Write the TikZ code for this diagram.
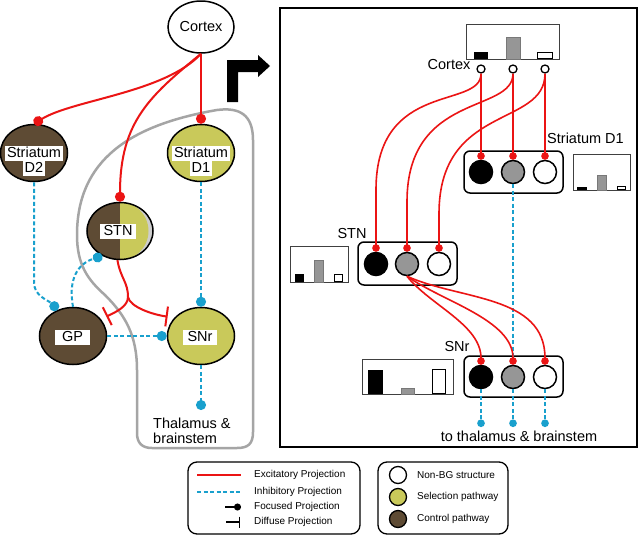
\documentclass[tikz,border=0pt]{standalone}
\usepackage{fontspec}
\setmainfont{Liberation Sans}
\usetikzlibrary{shapes.geometric,arrows.meta}
\definecolor{ctrlc}{RGB}{94,75,52}
\definecolor{selc}{RGB}{201,201,90}
\definecolor{excc}{RGB}{235,20,20}
\definecolor{inhc}{RGB}{25,160,205}
\definecolor{rimc}{RGB}{205,205,205}
\definecolor{outc}{RGB}{165,165,165}
\definecolor{midg}{RGB}{150,150,150}
\newcommand{\mybigfont}{\fontsize{14.5}{15}\selectfont}
\newcommand{\mysmallfont}{\fontsize{10}{12}\selectfont}
\begin{document}
\begin{tikzpicture}[x=1pt,y=-1pt,
 ell/.style={ellipse, draw=black, line width=1.5pt, minimum width=67pt, minimum height=57pt, inner sep=0pt},
 wlbl/.style={fill=white, inner xsep=2pt, inner ysep=1pt, text height=10.5pt, text depth=2.5pt, font=\mybigfont},
 wlblw/.style={wlbl, inner xsep=5pt},
 txt/.style={font=\mybigfont, inner sep=0pt},
 small/.style={font=\mysmallfont, inner sep=0pt, anchor=west},
 exc/.style={draw=excc, line width=2pt},
 excr/.style={draw=excc, line width=1.6pt},
 inh/.style={draw=inhc, line width=2pt, dash pattern=on 4pt off 2.5pt},
 inhr/.style={draw=inhc, line width=2.5pt, dash pattern=on 4pt off 2.5pt},
 dot/.style={-{Circle[length=10pt]}},
 sdot/.style={-{Circle[length=7.5pt]}},
 tee/.style={-{Bar[width=20pt]}},
 rbox/.style={draw=black, line width=1.5pt, rounded corners=6pt, fill=white, minimum width=99pt, minimum height=42pt, inner sep=0pt},
 cir/.style={circle, draw=black, line width=1.5pt, minimum size=23pt, inner sep=0pt},
 scir/.style={circle, draw=black, line width=1.3pt, minimum size=8pt, inner sep=0pt, fill=white},
 lcir/.style={circle, draw=black, line width=1.3pt, minimum size=17pt, inner sep=0pt},
 hbox/.style={draw=black!75, line width=0.8pt, fill=white},
 barw/.style={draw=black, line width=1.2pt, fill=white},
 barg/.style={fill=midg, draw=midg!80!black, line width=0.5pt},
]
\useasboundingbox (0,0) rectangle (640,536);
\fill[white] (0,0) rectangle (640,536);

% ---------- left panel ----------
\draw[outc, line width=2.5pt] (217,110) .. controls (240,107) and (253,115) .. (253,140) -- (253,432) .. controls (253,444) and (248,448) .. (237,448) -- (152,448) .. controls (142,448) and (137,443) .. (137,433) -- (137,370) .. controls (137,335) and (125,315) .. (105,295) .. controls (88,280) and (77,265) .. (77,235) .. controls (77,160) and (130,125) .. (217,110) -- cycle;

\fill[black] (227,102) -- (227,60) -- (258,60) -- (258,55) -- (270,66) -- (258,77) -- (258,72) -- (238,72) -- (238,102) -- cycle;

\node[ell, fill=white, minimum width=66pt, minimum height=52pt] (cx) at (201,27) {};
\node[txt] (cxt) at (cx.center) {Cortex};
\node[ell, fill=ctrlc] (d2) at (34,153) {};
\node[wlbl] (d2a) at (34,153) {Striatum};
\node[wlbl] (d2b) at (34,168) {D2};
\node[ell, fill=selc] (d1) at (201,153) {};
\node[wlbl] (d1a) at (201,153) {Striatum};
\node[wlbl] (d1b) at (201,168) {D1};
\node[ell, minimum width=66pt, path picture={
  \fill[rimc] (path picture bounding box.south west) rectangle (path picture bounding box.north east);
  \fill[selc] ([xshift=-2.5pt]path picture bounding box.center) ellipse [x radius=31pt, y radius=30pt];
  \fill[ctrlc] (path picture bounding box.south west) rectangle (path picture bounding box.north);
}] (stn) at (120,231) {};
\node[wlblw, inner xsep=3.5pt] (stnl) at (118,231) {STN};
\node[ell, fill=ctrlc] (gp) at (73,336) {};
\node[wlblw, inner xsep=7pt] (gpl) at (72.5,337) {GP};
\node[ell, fill=selc] (snr) at (201,336) {};
\node[wlblw, inner xsep=4.5pt] (snrl) at (200,337) {SNr};
\node[txt, align=left, anchor=north west] (thl) at (153,418) {Thalamus \&\\brainstem};

\draw[exc, dot] (cx.south) -- (d1.north);
\draw[exc, dot] (cx.south) .. controls +(-36,39) and +(39,-24) .. (d2.north);
\draw[exc, dot] (cx.south) .. controls +(-51,42) and +(0,-80) .. (stn.north);
\coordinate (br) at (128,297);
\draw[exc] (stn.265) .. controls +(3,18) and +(0,-15) .. (br);
\draw[exc, tee] (br) .. controls +(0,10) and +(8,-4) .. ([xshift=5pt,yshift=3pt]gp.30);
\draw[exc, tee] (br) .. controls +(2,10) and +(-15,-2) .. ([xshift=-5pt,yshift=3pt]snr.150);

\draw[inh, dot] (d2.south) -- ++(0,100) .. controls +(0,14) and +(-10,-10) .. (gp.120);
\draw[inh, dot] (gp.north) .. controls +(-6,-33) and +(-20,6) .. (stn.235);
\draw[inh, dot] (d1.south) -- (snr.north);
\draw[inh, dot] (gp.east) -- (snr.west);
\coordinate (thal) at (201,410);
\draw[inh, dot] (snr.south) -- (thal);

% ---------- right panel ----------
\draw[black, line width=2pt] (280,8) rectangle (637,447);

\draw[hbox] (466,24) rectangle (559,59);
\fill[black] (474,52) rectangle (488,59);
\draw[barg] (506,37) rectangle (520,59);
\draw[barw] (537.6,52.6) rectangle (552.4,58.4);
\node[txt] (cxl) at (449,65) {Cortex};
\node[scir] (c1) at (481,69) {};
\node[scir] (c2) at (513,69) {};
\node[scir] (c3) at (545,69) {};

\node[rbox] (d1box) at (513.5,172) {};
\node[cir, fill=black] (s1) at (481,172) {};
\node[cir, fill=midg] (s2) at (513,172) {};
\node[cir, fill=white] (s3) at (545,172) {};
\node[txt] (d1lab) at (585.5,138) {Striatum D1};
\draw[hbox] (573,154) rectangle (630,190);
\fill[black] (577,187) rectangle (587,190);
\draw[barg] (597,175) rectangle (606,190);
\draw[barw] (617.6,186.6) rectangle (625.4,189.6);

\node[rbox, minimum height=43pt] (stnbox) at (407.5,263.5) {};
\node[cir, fill=black] (t1) at (376,264) {};
\node[cir, fill=midg] (t2) at (407,264) {};
\node[cir, fill=white] (t3) at (439,264) {};
\node[txt] (stnlab) at (352,234) {STN};
\draw[hbox] (290,246) rectangle (348,282);
\fill[black] (295,274) rectangle (304,282);
\draw[barg] (314,260) rectangle (323,282);
\draw[barw] (334.6,274.6) rectangle (342.4,281.4);

\node[rbox, minimum height=41pt] (snrbox) at (513.5,376.5) {};
\node[cir, fill=black] (n1) at (481,377) {};
\node[cir, fill=midg] (n2) at (513,377) {};
\node[cir, fill=white] (n3) at (545,377) {};
\node[txt] (snrlab) at (457,347) {SNr};
\draw[hbox] (362,359) rectangle (453,394);
\fill[black] (368,370) rectangle (383,394);
\draw[barg] (401,388) rectangle (414,394);
\draw[barw] (432.6,369.6) rectangle (445.4,393.4);

\draw[inhr] (s2.south) -- (n2.north);
\coordinate (th1) at (481,427);
\coordinate (th2) at (513,427);
\coordinate (th3) at (545,427);
\draw[inhr, sdot] (n1.south) -- (th1);
\draw[inhr, sdot] (n2.south) -- (th2);
\draw[inhr, sdot] (n3.south) -- (th3);
\node[txt] (tolab) at (519,436) {to thalamus \& brainstem};

\draw[excr, sdot] (c1.south) -- (s1.north);
\draw[excr, sdot] (c2.south) -- (s2.north);
\draw[excr, sdot] (c3.south) -- (s3.north);
\draw[excr, sdot] (c1.south) .. controls +(0,36) and +(0,-110) .. ([yshift=62pt]t1.north) -- (t1.north);
\draw[excr, sdot] (c2.south) .. controls +(0,40) and +(0,-110) .. ([yshift=50pt]t2.north) -- (t2.north);
\draw[excr, sdot] (c3.south) .. controls +(0,54) and +(0,-110) .. ([yshift=38pt]t3.north) -- (t3.north);
\draw[excr, sdot] (t2.south) .. controls +(23,29) and +(0,-40) .. (n1.north);
\draw[excr, sdot] (t2.south) .. controls +(35,25) and +(0,-45) .. (n2.north);
\draw[excr, sdot] (t2.south) .. controls +(53,24) and +(0,-70) .. (n3.north);

% ---------- legends ----------
\draw[black, line width=1.3pt, rounded corners=9pt] (188,462) rectangle (360,534);
\coordinate (la1) at (197,475); \coordinate (lb1) at (241,475);
\coordinate (la2) at (197,492); \coordinate (lb2) at (241,492);
\coordinate (la3) at (225,507); \coordinate (lb3) at (241,507);
\coordinate (la4) at (226,522); \coordinate (lb4) at (240,522);
\draw[exc] (la1) -- (lb1);
\draw[inh] (la2) -- (lb2);
\draw[black, line width=1.5pt, -{Circle[length=7pt]}] (la3) -- (lb3);
\draw[black, line width=1.5pt, -{Bar[width=11pt]}] (la4) -- (lb4);
\node[small] (lt1) at (254,475) {Excitatory Projection};
\node[small] (lt2) at (254,492) {Inhibitory Projection};
\node[small] (lt3) at (254,507) {Focused Projection};
\node[small] (lt4) at (254,522) {Diffuse Projection};

\draw[black, line width=1.3pt, rounded corners=9pt] (378,462) rectangle (508,534);
\node[lcir, fill=white] (lg1) at (398,475) {};
\node[lcir, fill=selc] (lg2) at (398,497) {};
\node[lcir, fill=ctrlc] (lg3) at (398,519) {};
\node[small] (lr1) at (417,475) {Non-BG structure};
\node[small] (lr2) at (417,497) {Selection pathway};
\node[small] (lr3) at (417,519) {Control pathway};
\end{tikzpicture}
\end{document}
